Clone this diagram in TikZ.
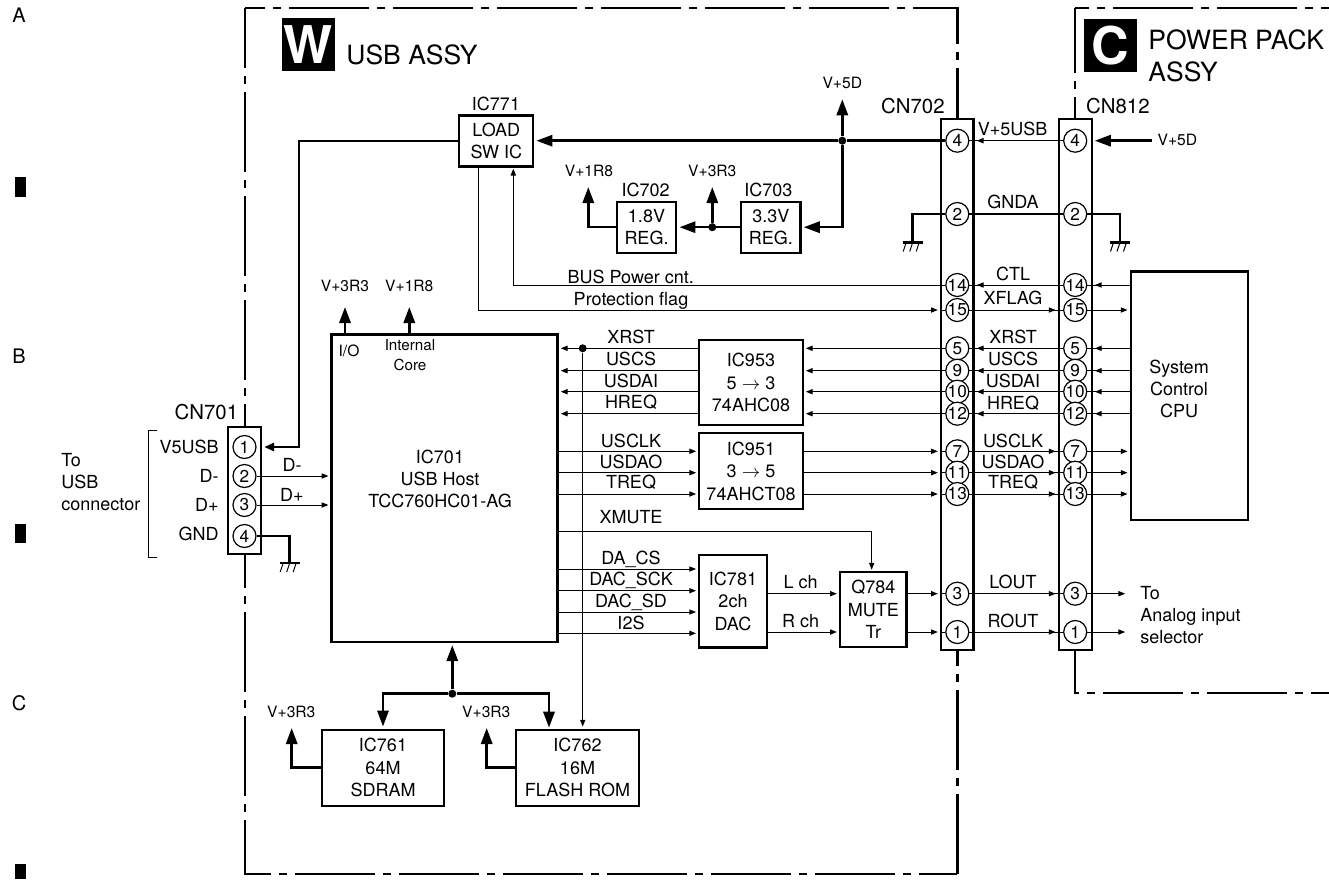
\documentclass[tikz,border=0pt]{standalone}
\usepackage{fontspec}
\setmainfont{TeX Gyre Heros}
\usetikzlibrary{arrows.meta}

\tikzset{
  gnd/.pic={
    \draw[pw] (-10,0)--(10,0);
    \foreach \d in {-6.5,0,6.5} \draw[wr] (\d,0)--++(-3,9);
  }}

\begin{document}
\begin{tikzpicture}[x=.5pt,y=-.5pt,
  lb/.style={inner sep=0pt,font=\fontsize{9}{10.8}\selectfont,text height=6.4pt,text depth=0pt},
  sm/.style={inner sep=0pt,font=\fontsize{7.8}{9.4}\selectfont,text height=5.6pt,text depth=0pt},
  cl/.style={inner sep=0pt,font=\fontsize{10.2}{12}\selectfont,text height=7.3pt,text depth=0pt},
  tx/.style={inner sep=0pt,align=left,font=\fontsize{9}{10.8}\selectfont},
  ti/.style={inner sep=0pt,anchor=base west,font=\fontsize{13.25}{16}\selectfont},
  bg/.style={fill=black,text=white,inner sep=0pt,minimum size=26.5pt,font=\fontsize{26}{26}\selectfont\bfseries},
  bx/.style={draw,line width=1.15pt,fill=white,inner sep=0pt,align=center,font=\fontsize{9}{11.2}\selectfont},
  cn/.style={draw,line width=1.15pt,fill=white,inner sep=0pt},
  pn/.style={circle,draw,line width=.6pt,fill=white,minimum size=11.5pt,inner sep=0pt,font=\fontsize{8.6}{9}\selectfont},
  jn/.style={circle,fill=black,minimum size=4pt,inner sep=0pt},
  wr/.style={line width=.5pt},
  wa/.style={wr,-{Triangle[length=3.4pt,width=2.6pt]},shorten >=1pt},
  pw/.style={line width=1.25pt},
  pa/.style={pw,-{Triangle[length=8pt,width=5.6pt]},shorten >=1pt},
  pb/.style={pw,-{Triangle[length=5pt,width=4pt]},shorten >=1pt},
  fr/.style={line width=1.3pt,dash pattern=on 40pt off 4pt on 4pt off 4pt}]
 \useasboundingbox (0,0) rectangle (1329,879);
 % sheet margin
 \foreach \t/\y in {A/15.5,B/356,C/703} \node[inner sep=0pt,font=\fontsize{10}{12}\selectfont] (m\t) at (19,\y) {\t};
 \foreach \y/\h in {186.7/10,533.3/9.4,871.5/7.5} \node[fill=black,inner sep=0pt,minimum width=5.5pt,minimum height=\h pt] (bar\y) at (20.5,\y) {};
 % assy frames
 \draw[fr,dash phase=30pt] (245,8)--(957.3,8)--(957.3,119);
 \draw[fr,dash phase=10pt] (245,8)--(245,874)--(957.3,874);
 \draw[fr] (957.3,874)--(957.3,650);
 \draw[fr,dash phase=7.6pt] (1075,8)--(1075,119);
 \draw[fr,dash phase=33pt] (1075,8)--(1329,8);
 \draw[fr,dash phase=16.5pt] (1075,650)--(1075,693)--(1329,693);
 \node[bg] (W) at (308.5,44.3) {W};
 \node[ti] (tW) at (346,64) {USB ASSY};
 \node[bg] (C) at (1110.5,45.3) {C};
 \node[ti] (tC1) at (1148,49) {POWER PACK};
 \node[ti] (tC2) at (1148,81.5) {ASSY};
 % connectors
 \node[cn,minimum width=16.5pt,minimum height=63.4pt] (CN701) at (244.5,490.6) {};
 \node[cn,minimum width=16.3pt,minimum height=265.5pt] (CN702) at (957.3,384.5) {};
 \node[cn,minimum width=16.5pt,minimum height=265.5pt] (CN812) at (1075.2,384.5) {};
 \foreach \p/\y in {1/447,2/476,3/505,4/536} \node[pn] (u\p) at (244.5,\y) {\p};
 \foreach \p/\y in {4/140.7,2/214,14/285,15/310,5/348.3,9/370.7,10/391.7,12/413.7,7/451.3,11/472.7,13/494,3/593.7,1/632} {
   \node[pn] (a\p) at (957.3,\y) {\p};
   \node[pn] (b\p) at (1075.2,\y) {\p};
 }
 \node[cl,anchor=east] (lCN701) at (238.5,412.3) {CN701};
 \node[cl,anchor=east] (lCN702) at (945,106.5) {CN702};
 \node[cl,anchor=west] (lCN812) at (1085.7,105.7) {CN812};
 % blocks
 \node[bx,minimum width=113pt,minimum height=153.8pt] (IC701) at (444.6,488.2) {};
 \node[bx,minimum width=37pt,minimum height=25.4pt] (IC771) at (496.3,141) {LOAD\\SW IC};
 \node[bx,minimum width=29.8pt,minimum height=25.5pt] (IC702) at (646.5,227.2) {1.8V\\REG.};
 \node[bx,minimum width=29.8pt,minimum height=25.5pt] (IC703) at (770.8,227.2) {3.3V\\REG.};
 \node[bx,minimum width=51.7pt,minimum height=42.6pt] (IC953) at (751,382.6) {IC953\\5 $\rightarrow$ 3\\74AHC08};
 \node[bx,minimum width=51.7pt,minimum height=38pt] (IC951) at (751,471.3) {IC951\\3 $\rightarrow$ 5\\74AHCT08};
 \node[bx,minimum width=33.8pt,minimum height=46.2pt] (IC781) at (733,601.2) {IC781\\2ch\\DAC};
 \node[bx,minimum width=33.3pt,minimum height=37.8pt] (Q784) at (873.3,609.5) {Q784\\MUTE\\Tr};
 \node[bx,minimum width=61.3pt,minimum height=38pt] (IC761) at (383,767.7) {IC761\\64M\\SDRAM};
 \node[bx,minimum width=61.5pt,minimum height=38pt] (IC762) at (577.5,767.7) {IC762\\16M\\FLASH ROM};
 \node[bx,minimum width=58.5pt,minimum height=124.2pt] (CPU) at (1189.2,395.8) {};
 \node[tx,align=center] (tCPU) at (1179,389) {System\\Control\\CPU};
 \node[tx,align=center] (t701) at (440,479) {IC701\\USB Host\\TCC760HC01-AG};
 \node[sm] (tIO) at (349,351) {I/O};
 \node[tx,align=center,font=\fontsize{7.6}{9.6}\selectfont] (tCore) at (410,355) {Internal\\Core};
 \node[tx] (tUSB) [anchor=west] at (61,482) {To\\USB\\connector};
 \node[tx] (tAna) [anchor=west] at (1140,615) {To\\Analog input\\selector};
 \draw[wr] (157,430)--(148,430)--(148,557)--(157,557);
 % signal names
 \foreach \t/\x/\y [count=\i] in {IC771/496/104.3,IC702/645.7/190,IC703/768.3/190,%
   BUS Power cnt./630.7/277,XRST/631/336.7,USCS/631/359.3,USDAI/631/381,HREQ/631/402.3,%
   USCLK/631/440.7,USDAO/631/461.7,TREQ/631/482.3,XMUTE/631/517.3,DA\_CS/631/558.3,%
   DAC\_SCK/631/579.3,DAC\_SD/631/600.7,I2S/631/622.7,L ch/800.7/581.7,R ch/800.7/620.7,%
   V+5USB/1012.7/129.3,GNDA/1013/202.3,CTL/1013/274.3,XFLAG/1013/298.3,XRST/1013/336.7,%
   USCS/1013/359.3,USDAI/1013/380.7,HREQ/1013/402.7,USCLK/1013/441,USDAO/1013/461.7,%
   TREQ/1013/482.3,LOUT/1013/582.3,ROUT/1013/621.3,D-/292/465.5,D+/292/495,%
   Protection flag/631/299}
   \node[lb] (s\i) at (\x,\y) {\t};
 \foreach \t/\y [count=\i] in {V5USB/447,D-/476,D+/505,GND/534}
   \node[lb,anchor=east] (p\i) at (219,\y) {\t};
 \foreach \t/\x/\y [count=\i] in {V+5D/842.3/83.3,V+1R8/589/170.7,V+3R3/712.3/170.7,%
   V+3R3/345/286,V+1R8/409.3/286,V+3R3/291.3/711.7,V+3R3/486.3/711.7}
   \node[sm] (v\i) at (\x,\y) {\t};
 \node[sm,anchor=west] (v8) at (1157.3,140) {V+5D};
 % free ends
 \coordinate (k1) at (299,447);
 \coordinate (k2) at (1151.7,140.7);
 \coordinate (t1) at (842.3,97.3);
 \coordinate (t2) at (588.3,185);
 \coordinate (t3) at (712.3,185);
 \coordinate (t4) at (345,305);
 \coordinate (t5) at (409.3,305);
 \coordinate (t6) at (291.7,726);
 \coordinate (t7) at (486.7,726);
 \coordinate (g1) at (289.7,563);
 \coordinate (g2) at (912.7,242.5);
 \coordinate (g3) at (1120,242.5);
 \coordinate (bus) at (513.3,166.7);
 \coordinate (flg) at (478.3,166.7);
 \coordinate (xm0) at (557.5,531);
 \coordinate (xm1) at (871.7,571.7);
 \coordinate (rom) at (549,729.7);
 % junctions
 \node[jn] (J1) at (842.3,140.7) {};
 \node[jn] (J2) at (712.3,227.2) {};
 \node[jn] (J3) at (582.7,348.3) {};
 \node[jn] (J4) at (452.3,693.7) {};
 % power
 \draw[pw] (a4)--(J1);
 \draw[pa] (J1)--(IC771.east |- J1);
 \draw[pa] (J1)--(t1);
 \draw[pa] (J1) |- (IC703.east);
 \draw[pa] (IC703.west)--(IC702.east);
 \draw[pa] (J2)--(t3);
 \draw[pa] (IC702.west) -| (t2);
 \draw[pa] (IC701.north -| t4)--(t4);
 \draw[pa] (IC701.north -| t5)--(t5);
 \draw[pb] (IC771.west) -| (k1)--(CN701.east |- k1);
 \draw[pa] (k2)--(CN812.east |- k2);
 \draw[pw] (a2)--(b2);
 \draw[wr] (b4)--(a4);
 \draw[wa] (b4)--(CN702.east |- a4);
 \draw[pw] (a2) -| (g2);
 \draw[pw] (b2) -| (g3);
 \draw[pw] (u4) -| (g1);
 \pic at (g1) {gnd};
 \pic at (g2) {gnd};
 \pic at (g3) {gnd};
 % cpu to load switch and gates
 \draw[wa] (a14) -| (bus);
 \draw[wa] (flg) |- (CN702.west |- a15);
 \foreach \p in {14,5,9,10,12} {
   \draw[wr] (CPU.west |- b\p)--(b\p);
   \draw[wa] (CPU.west |- b\p)--(CN812.east |- b\p);
   \draw[wr] (b\p)--(a\p);
   \draw[wa] (b\p)--(CN702.east |- a\p);
 }
 \foreach \p in {15,7,11,13} {
   \draw[wr] (a\p)--(b\p);
   \draw[wa] (a\p)--(CN812.west |- b\p);
   \draw[wa] (b\p)--(CPU.west |- b\p);
 }
 \foreach \p in {3,1} {
   \draw[wr] (a\p)--(b\p);
   \draw[wa] (a\p)--(CN812.west |- b\p);
   \draw[wa] (b\p)--++(52,0);
 }
 \foreach \p in {5,9,10,12} {
   \draw[wa] (a\p)--(IC953.east |- a\p);
   \draw[wa] (IC953.west |- a\p)--(IC701.east |- a\p);
 }
 \foreach \p in {7,11,13} {
   \draw[wa] (IC701.east |- a\p)--(IC951.west |- a\p);
   \draw[wa] (IC951.east |- a\p)--(CN702.west |- a\p);
 }
 \foreach \p in {15,7,11,13,3,1} \draw[wr] (CN702.west |- a\p)--(a\p);
 \draw[wa] (J3)--(J3 |- IC762.north);
 \draw[wa] (xm0) -| (xm1);
 \foreach \y in {569,590.7,612,633.3} \draw[wa] (IC701.east |- 0,\y)--(IC781.west |- 0,\y);
 \foreach \p in {3,1} {
   \draw[wa] (IC781.east |- a\p)--(Q784.west |- a\p);
   \draw[wa] (Q784.east |- a\p)--(CN702.west |- a\p);
 }
 \draw[wa] (u2)--(IC701.west |- u2);
 \draw[wa] (u3)--(IC701.west |- u3);
 % memory bus
 \draw[pa] (J4)--(J4 |- IC701.south);
 \draw[pa] (J4) -| (IC761.north);
 \draw[pa] (J4) -| (rom);
 \draw[pa] (IC761.west) -| (t6);
 \draw[pa] (IC762.west) -| (t7);
\end{tikzpicture}
\end{document}
